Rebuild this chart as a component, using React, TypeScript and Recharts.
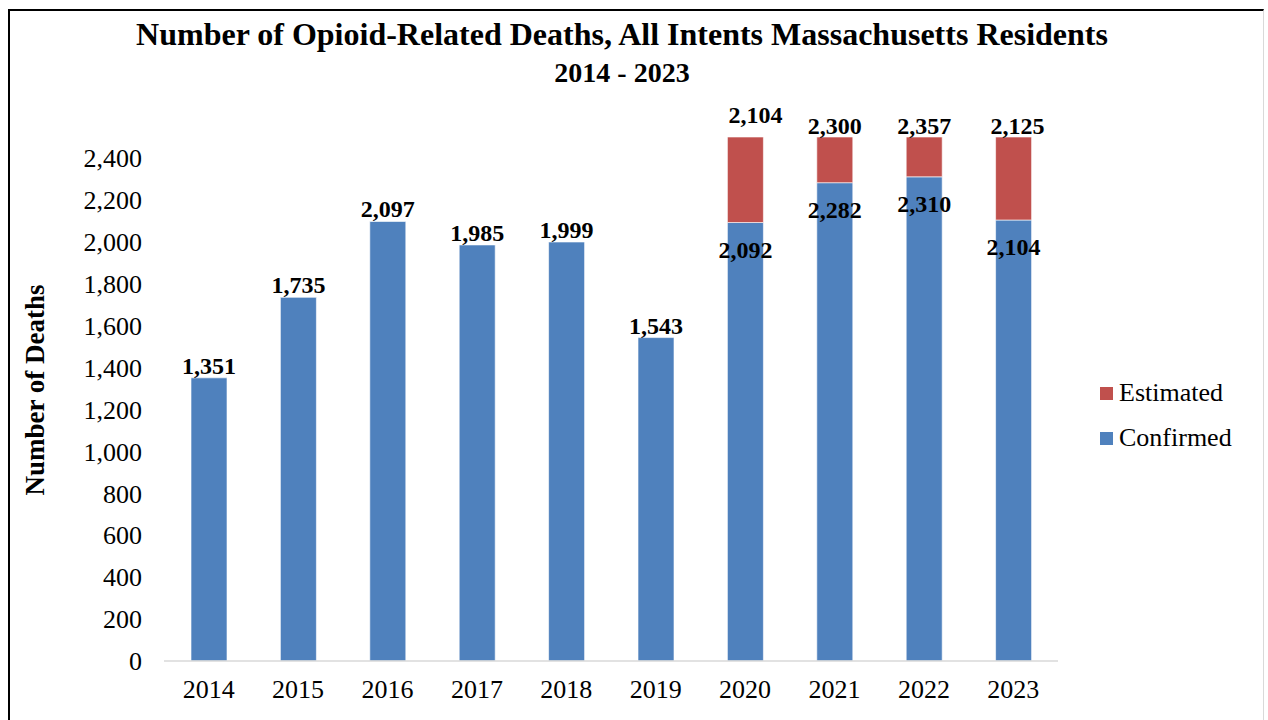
import React from 'react';
import { BarChart, Bar, XAxis, YAxis, LabelList } from 'recharts';

// ---- data ----
const years = ['2014', '2015', '2016', '2017', '2018', '2019', '2020', '2021', '2022', '2023'];
const confirmed = [1351, 1735, 2097, 1985, 1999, 1543, 2092, 2282, 2310, 2104];
const estimated = [null, null, null, null, null, null, 2104, 2300, 2357, 2125];
const yTicks = [0, 200, 400, 600, 800, 1000, 1200, 1400, 1600, 1800, 2000, 2200, 2400];

const chartData = years.map((year, i) => ({
    name: year,
    confirmed: confirmed[i],
    estimated: estimated[i],
}));

// ---- look ----
const WIDTH = 1268;
const HEIGHT = 720;
const MARGIN = { top: 137, right: 210, bottom: 19, left: 20 };
const FONT = '"Liberation Serif", "Times New Roman", serif';
const BLUE = '#4F81BD';
const RED = '#C0504D';
const AXIS_GRAY = '#d9d9d9';

const legendItems = [
    { label: 'Estimated', color: RED },
    { label: 'Confirmed', color: BLUE },
];

// a few estimate labels were nudged by hand in the original
const estLabelNudge: Record<string, { dx: number; dy: number }> = {
    '2020': { dx: 10, dy: -11 },
    '2023': { dx: 4, dy: 0 },
};

const fmt = (v: number) => v.toLocaleString('en-US');

const labelStyle: React.CSSProperties = {
    fontFamily: FONT,
    fontSize: 24,
    fontWeight: 'bold',
    fill: '#000',
};

const ConfirmedLabel = (props: any) => {
    const vb = props.viewBox || props;
    const { x, y, width } = vb;
    if (props.value == null) return null;
    const i = confirmed.indexOf(props.value);
    const hasEstimate = estimated[i] != null;
    const ty = hasEstimate ? y + 35 : y - 4;
    return (
        <text x={x + width / 2} y={ty} textAnchor="middle" style={labelStyle}>
            {fmt(props.value)}
        </text>
    );
};

const EstimatedLabel = (props: any) => {
    const vb = props.viewBox || props;
    const { x, width } = vb;
    if (props.value == null) return null;
    const i = estimated.indexOf(props.value);
    const nudge = estLabelNudge[years[i]] || { dx: 0, dy: 0 };
    return (
        <text
            x={x + width / 2 + nudge.dx}
            y={MARGIN.top - 3 + nudge.dy}
            textAnchor="middle"
            style={labelStyle}
        >
            {fmt(props.value)}
        </text>
    );
};

export default function App() {
    return (
        <div style={{ position: 'absolute', left: 0, top: 0, width: WIDTH, height: HEIGHT, background: '#fff', fontFamily: FONT }}>
            {/* frame */}
            <div
                style={{
                    position: 'absolute',
                    left: 8,
                    top: 9,
                    width: 1263 - 8 - 2,
                    height: HEIGHT,
                    borderLeft: '2px solid #000',
                    borderTop: '2px solid #000',
                    borderRight: `1px solid ${AXIS_GRAY}`,
                }}
            />

            {/* title */}
            <div
                style={{
                    position: 'absolute',
                    left: 0,
                    top: 16,
                    width: 1244,
                    textAlign: 'center',
                    fontSize: 32,
                    lineHeight: '37px',
                    fontWeight: 'bold',
                    color: '#000',
                    whiteSpace: 'nowrap',
                }}
            >
                Number of Opioid-Related Deaths, All Intents Massachusetts Residents
            </div>
            <div
                style={{
                    position: 'absolute',
                    left: 0,
                    top: 54,
                    width: 1244,
                    textAlign: 'center',
                    fontSize: 28,
                    lineHeight: '37px',
                    fontWeight: 'bold',
                    color: '#000',
                }}
            >
                2014 - 2023
            </div>

            {/* y axis title */}
            <div
                style={{
                    position: 'absolute',
                    left: 35 - 150,
                    top: 390 - 15,
                    width: 300,
                    height: 30,
                    lineHeight: '30px',
                    textAlign: 'center',
                    fontSize: 27,
                    fontWeight: 'bold',
                    transform: 'rotate(-90deg)',
                    color: '#000',
                }}
            >
                Number of Deaths
            </div>

            <div style={{ position: 'absolute', left: 0, top: 0 }}>
                <BarChart width={WIDTH} height={HEIGHT} data={chartData} margin={MARGIN}>
                    <XAxis
                        dataKey="name"
                        axisLine={{ stroke: AXIS_GRAY, strokeWidth: 1.5 }}
                        tickLine={false}
                        tickMargin={13}
                        height={40}
                        tick={{ fontFamily: FONT, fontSize: 26, fill: '#000' }}
                    />
                    <YAxis
                        width={144}
                        domain={[0, 2500]}
                        allowDataOverflow
                        ticks={yTicks}
                        axisLine={false}
                        tickLine={false}
                        tickMargin={16}
                        tickFormatter={fmt}
                        tick={{ fontFamily: FONT, fontSize: 26, fill: '#000' }}
                    />
                    <Bar
                        dataKey="confirmed"
                        stackId="a"
                        fill={BLUE}
                        stroke="#ffffff"
                        strokeOpacity={0.6}
                        strokeWidth={1}
                        barSize={36}
                        isAnimationActive={false}
                    >
                        <LabelList dataKey="confirmed" content={ConfirmedLabel} />
                    </Bar>
                    <Bar
                        dataKey="estimated"
                        stackId="a"
                        fill={RED}
                        stroke="#ffffff"
                        strokeOpacity={0.6}
                        strokeWidth={1}
                        barSize={36}
                        isAnimationActive={false}
                    >
                        <LabelList dataKey="estimated" content={EstimatedLabel} />
                    </Bar>
                </BarChart>
            </div>

            {/* legend */}
            {legendItems.map((item, i) => (
                <div
                    key={item.label}
                    style={{
                        position: 'absolute',
                        left: 1100,
                        top: 378 + i * 45,
                        height: 30,
                        display: 'flex',
                        alignItems: 'center',
                        fontSize: 26,
                        color: '#000',
                        whiteSpace: 'nowrap',
                    }}
                >
                    <span style={{ display: 'inline-block', width: 13, height: 13, background: item.color, marginRight: 6 }} />
                    <span>{item.label}</span>
                </div>
            ))}
        </div>
    );
}
